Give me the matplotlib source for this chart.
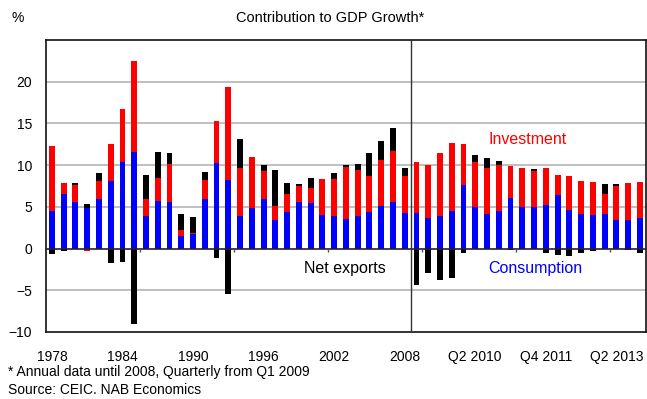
import numpy as np
import matplotlib
matplotlib.use("Agg")
import matplotlib.pyplot as plt

plt.rcParams['font.family'] = ['Liberation Sans', 'DejaVu Sans']

# Periods: annual 1978-2008, then quarterly Q1 2009 - Q4 2013
years = [str(y) for y in range(1978, 2009)]
quarters = [f"Q{q} {y}" for y in range(2009, 2014) for q in range(1, 5)]
periods = years + quarters

# Contributions to GDP growth (ppt)
consumption = [4.5, 6.55, 5.55, 4.9, 5.9, 8.1, 10.35, 11.55, 3.9, 5.7,
               5.55, 1.5, 1.7, 5.9, 10.25, 8.2, 3.9, 4.9, 5.9, 3.4,
               4.35, 5.55, 5.45, 4.0, 3.9, 3.5, 3.9, 4.35, 5.1, 5.55,
               4.25,
               4.25, 3.65, 3.9, 4.5, 7.6, 4.95, 4.1, 4.5, 6.05, 4.95,
               4.95, 5.2, 6.4, 4.6, 4.1, 4.0, 4.1, 3.4, 3.4, 3.65]
investment = [7.8, 1.3, 2.05, -0.3, 2.15, 4.45, 6.35, 10.9, 2.05, 2.75,
              4.55, 0.7, 0.15, 2.3, 5.05, 11.15, 5.75, 6.1, 3.35, 1.7,
              2.15, 1.9, 1.8, 4.3, 4.45, 6.25, 5.5, 4.3, 5.5, 6.1,
              4.45,
              6.1, 6.35, 7.55, 8.15, 4.9, 5.4, 5.5, 5.5, 3.85, 4.7,
              4.3, 4.45, 2.4, 4.1, 3.95, 3.95, 2.4, 4.1, 4.45, 4.3]
net_exports = [-0.7, -0.3, 0.25, 0.45, 0.95, -1.75, -1.65, -9.1, 2.9, 3.1,
               1.3, 1.9, 1.9, 0.95, -1.15, -5.5, 3.5, 0.0, 0.7, 4.3,
               1.3, 0.25, 1.2, 0.0, 0.7, 0.25, 0.7, 2.75, 2.3, 2.75,
               0.95,
               -4.4, -2.95, -3.8, -3.55, -0.55, 0.85, 1.2, 0.5, -0.2, 0.0,
               0.25, -0.55, -0.8, -0.9, -0.55, -0.3, 1.2, 0.25, -0.2, -0.55]

tick_idx = list(range(0, len(periods), 6))
tick_labels = [periods[i] for i in tick_idx]

fig = plt.figure(figsize=(6.47, 3.99), dpi=100)
ax = fig.add_axes([0.0711, 0.168, 0.927, 0.732])

x = np.arange(len(periods))
pos_base = np.zeros(len(periods))
neg_base = np.zeros(len(periods))
for vals, col in [(consumption, '#0000ff'), (investment, '#ff0000'), (net_exports, '#000000')]:
    v = np.array(vals)
    bottom = np.where(v >= 0, pos_base, neg_base)
    ax.bar(x, v, bottom=bottom, width=0.5, color=col, zorder=3)
    pos_base = pos_base + np.where(v >= 0, v, 0)
    neg_base = neg_base + np.where(v < 0, v, 0)

ax.set_xlim(-0.5, len(periods) - 0.5)
ax.set_ylim(-10, 25)
ax.set_yticks([-10, -5, 0, 5, 10, 15, 20])
for y in [-5, 5, 10, 15, 20]:
    ax.axhline(y, color='#b4b4b4', lw=1.2, zorder=1)
ax.axhline(0, color='#222222', lw=1.2, zorder=4)
ax.axvline(30.5, color='#333333', lw=1.0, zorder=4)
# small category ticks on the zero line
ax.vlines(np.arange(7.5, len(periods), 8), -0.45, 0, color='#555555', lw=1.0, zorder=4)

ax.set_xticks(tick_idx)
ax.set_xticklabels(tick_labels, fontsize=10)
ax.tick_params(axis='x', length=0, pad=13)
ax.tick_params(axis='y', length=0, pad=10, labelsize=10)
for s in ax.spines.values():
    s.set_color('#111111')
    s.set_linewidth(1.2)

ax.text(37.1, 12.5, 'Investment', color='#ff0000', fontsize=11.5)
ax.text(21.4, -2.9, 'Net exports', color='#000000', fontsize=11.5)
ax.text(37.1, -2.9, 'Consumption', color='#0000ff', fontsize=11.5)

fig.text(0.51, 0.955, 'Contribution to GDP Growth*', ha='center', va='center', fontsize=10.5)
fig.text(0.018, 0.955, '%', ha='left', va='center', fontsize=10)
fig.text(0.012, 0.068, '* Annual data until 2008, Quarterly from Q1 2009', va='center', fontsize=10)
fig.text(0.012, 0.022, 'Source: CEIC. NAB Economics', va='center', fontsize=10)

fig.savefig('out.png', dpi=100)
